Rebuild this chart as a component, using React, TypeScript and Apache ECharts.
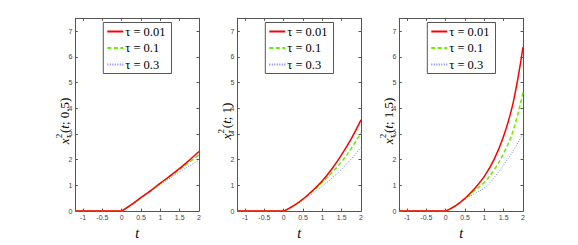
import React, { useEffect, useRef } from "react";
import * as echarts from "echarts";

const flatT = [-1.2, 0];
const riseT = [0, 0.25, 0.5, 0.75, 1, 1.25, 1.5, 1.75, 2];
const tauNames = ["τ = 0.01", "τ = 0.1", "τ = 0.3"];
const panelParams = ["0.5", "1", "1.5"];
const xTicks = [-1, -0.5, 0, 0.5, 1, 1.5, 2];

// values for t < 0 (zero) and on riseT
const flatValues = [0, 0];

const s05Tau001 = [0, 0.25, 0.53, 0.8, 1.09, 1.37, 1.66, 1.98, 2.32];
const s05Tau01 = [0, 0.25, 0.52, 0.79, 1.07, 1.34, 1.62, 1.9, 2.18];
const s05Tau03 = [0, 0.24, 0.5, 0.76, 1.03, 1.28, 1.53, 1.76, 1.97];

const s1Tau001 = [0, 0.2, 0.47, 0.8, 1.18, 1.65, 2.2, 2.82, 3.55];
const s1Tau01 = [0, 0.2, 0.46, 0.77, 1.12, 1.5, 1.92, 2.45, 3.04];
const s1Tau03 = [0, 0.19, 0.42, 0.68, 0.97, 1.28, 1.63, 2.03, 2.48];

const s15Tau001 = [0, 0.2, 0.5, 0.88, 1.35, 2.0, 2.92, 4.25, 6.38];
const s15Tau01 = [0, 0.2, 0.48, 0.8, 1.12, 1.6, 2.25, 3.15, 4.62];
const s15Tau03 = [0, 0.19, 0.45, 0.68, 0.9, 1.3, 1.8, 2.35, 3.02];

const panelData = [
  [s05Tau001, s05Tau01, s05Tau03],
  [s1Tau001, s1Tau01, s1Tau03],
  [s15Tau001, s15Tau01, s15Tau03],
];

const SERIF = "'Liberation Serif', 'DejaVu Serif', serif";
const SANS = "'Liberation Sans', Arial, sans-serif";
const gridLefts = [75.3, 237.3, 399.3];
const gridW = 123.7;
const gridTop = 18.3;
const gridH = 199;
const axisColor = "#555";

const lineStyles = [
  { color: "#ff0000", width: 1.5, type: "solid" as any },
  { color: "#66ee00", width: 1.5, type: [4, 2.5] as any },
  { color: "#8080ff", width: 1, type: [1, 1.5] as any },
];

function measure(text: string, font: string) {
  const c = document.createElement("canvas").getContext("2d")!;
  c.font = font;
  return c.measureText(text).width;
}

export default function App() {
  const ref = useRef<HTMLDivElement>(null);
  useEffect(() => {
    if (!ref.current) return;
    const chart = echarts.init(ref.current, null, { renderer: "svg" });

    const grids: any[] = [];
    const xAxes: any[] = [];
    const yAxes: any[] = [];
    const series: any[] = [];
    const legends: any[] = [];
    const graphics: any[] = [];

    gridLefts.forEach((left, p) => {
      grids.push({ left, top: gridTop, width: gridW, height: gridH, containLabel: false });
      const baseX = {
        type: "value",
        gridIndex: p,
        min: -1.2,
        max: 2,
        splitLine: { show: false },
        axisLine: { show: true, onZero: false, lineStyle: { color: axisColor, width: 1 } },
        axisTick: { show: true, inside: true, length: 2.5, customValues: xTicks, lineStyle: { color: axisColor } },
      };
      xAxes.push({
        ...baseX,
        position: "bottom",
        axisLabel: {
          show: true,
          customValues: xTicks,
          fontSize: 7,
          color: "#444",
          fontFamily: SANS,
          margin: 3,
        },
        name: "t",
        nameLocation: "middle",
        nameGap: 12,
        nameTextStyle: { fontFamily: SERIF, fontStyle: "italic", fontSize: 14, color: "#000" },
      });
      xAxes.push({ ...baseX, position: "top", axisLabel: { show: false } });
      const baseY = {
        type: "value",
        gridIndex: p,
        min: 0,
        max: 7.5,
        interval: 1,
        splitLine: { show: false },
        axisLine: { show: true, onZero: false, lineStyle: { color: axisColor, width: 1 } },
        axisTick: { show: true, inside: true, length: 2.5, lineStyle: { color: axisColor } },
      };
      yAxes.push({
        ...baseY,
        position: "left",
        axisLabel: {
          show: true,
          showMaxLabel: false,
          fontSize: 7,
          color: "#444",
          fontFamily: SANS,
          margin: 3,
        },
      });
      yAxes.push({ ...baseY, position: "right", axisLabel: { show: false } });

      panelData[p].forEach((vals, k) => {
        const common = {
          type: "line",
          name: tauNames[k],
          xAxisIndex: p * 2,
          yAxisIndex: p * 2,
          symbol: "none",
          lineStyle: lineStyles[k],
          itemStyle: { color: lineStyles[k].color },
          z: 3 - k,
        };
        series.push({
          ...common,
          data: riseT.map((t, i) => [t, vals[i]]),
          smooth: 0.4,
        });
        series.push({
          ...common,
          data: flatT.map((t, i) => [t, flatValues[i]]),
          smooth: false,
        });
      });

      legends.push({
        data: tauNames,
        orient: "vertical",
        left: left + 28,
        top: 22.5,
        width: 69,
        itemWidth: 16,
        itemHeight: 9,
        itemGap: 3.5,
        padding: [2.5, 6, 2.5, 3],
        borderColor: "#555",
        borderWidth: 1,
        backgroundColor: "#fff",
        selectedMode: false,
        itemStyle: { opacity: 0 },
        textStyle: { fontFamily: SERIF, fontSize: 12.5, color: "#000", lineHeight: 10, padding: [0, 0, 0, -3] },
      });

      // y-axis label: x_tau^2(t; s)
      const fsMain = 13;
      const fsSmall = 9;
      const restRich = `{p|(}{i|t}{p|; ${panelParams[p]})}`;
      const restPlain = `(t; ${panelParams[p]})`;
      const restW = measure(restPlain, `${fsMain}px 'Liberation Serif'`);
      const xW = measure("x", `italic ${fsMain}px 'Liberation Serif'`);
      const supW = 5.5;
      const total = xW + supW + restW;
      const x0 = -total / 2;
      graphics.push({
        type: "group",
        x: left - 11,
        y: 121,
        rotation: Math.PI / 2,
        children: [
          {
            type: "text",
            x: x0,
            y: 0,
            style: { text: "x", fontFamily: SERIF, fontStyle: "italic", fontSize: fsMain, fill: "#000", align: "left", verticalAlign: "middle" },
          },
          {
            type: "text",
            x: x0 + xW + 0.3,
            y: -5,
            style: { text: "2", fontFamily: SERIF, fontSize: fsSmall, fill: "#000", align: "left", verticalAlign: "middle" },
          },
          {
            type: "text",
            x: x0 + xW + 0.3,
            y: 4,
            style: { text: "τ", fontFamily: SERIF, fontStyle: "italic", fontSize: fsSmall, fill: "#000", align: "left", verticalAlign: "middle" },
          },
          {
            type: "text",
            x: x0 + xW + supW,
            y: 0,
            style: {
              text: restRich,
              fontFamily: SERIF,
              fontSize: fsMain,
              fill: "#000",
              align: "left",
              verticalAlign: "middle",
              rich: {
                p: { fontFamily: SERIF, fontSize: fsMain, fill: "#000" },
                i: { fontFamily: SERIF, fontSize: fsMain, fontStyle: "italic", fill: "#000" },
              },
            },
          },
        ],
      });
    });

    chart.setOption({
      animation: false,
      backgroundColor: "#fff",
      grid: grids,
      xAxis: xAxes,
      yAxis: yAxes,
      series,
      legend: legends,
      graphic: graphics,
    });
    return () => chart.dispose();
  }, []);
  return <div ref={ref} style={{ position: "fixed", left: 0, top: 0, width: 578, height: 245 }} />;
}
